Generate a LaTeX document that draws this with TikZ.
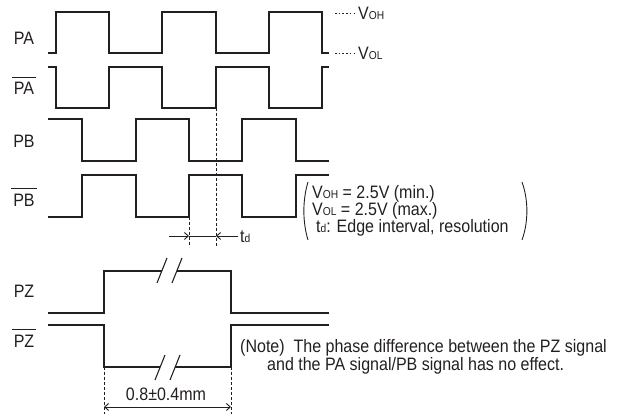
\documentclass[tikz,border=0pt]{standalone}
\usepackage{fontspec}
\setmainfont{Liberation Sans}[FakeStretch=0.89]
\usetikzlibrary{arrows.meta}
\definecolor{ink}{RGB}{35,31,32}
\newcommand{\mysub}[1]{{\fontsize{11.5}{11.5}\selectfont #1}}
\begin{document}
\begin{tikzpicture}[x=1pt,y=-1pt,
  wave/.style={draw=ink,line width=1.7pt,line join=miter},
  guide/.style={draw=ink,line width=0.8pt,dash pattern=on 3pt off 2pt},
  dotline/.style={draw=ink,line width=0.8pt,dash pattern=on 1.5pt off 2.2pt},
  thinline/.style={draw=ink,line width=0.9pt},
  brk/.style={draw=ink,line width=1.1pt},
  lbl/.style={inner sep=0pt,text=ink,font=\fontsize{18}{20}\selectfont},
  txt/.style={inner sep=0pt,anchor=west,text=ink,font=\fontsize{18}{20}\selectfont},
  arr/.style={draw=ink,line width=0.9pt,-{Straight Barb[length=4pt,width=7pt]}}
]
\useasboundingbox (0,0) rectangle (622,419);

% signal labels
\node[lbl] (pa)  at (24,38.5) {PA};
\node[lbl] (pab) at (24,88.5) {PA};
\node[lbl] (pb)  at (24,141.5) {PB};
\node[lbl] (pbb) at (24,200) {PB};
\node[lbl] (pz)  at (24,291) {PZ};
\node[lbl] (pzb) at (24,341) {PZ};
\foreach \n in {pab,pbb,pzb}{
  \draw[thinline] ([xshift=-2pt,yshift=5pt]\n.north west) -- ([xshift=2pt,yshift=5pt]\n.north east);
}

% PA
\draw[wave] (48,53) -- (56,53) -- (56,12) -- (109,12) -- (109,53) -- (162,53) -- (162,12) -- (216,12) -- (216,53) -- (269,53) -- (269,12) -- (322,12) -- (322,53) -- (329,53);
% PA bar
\draw[wave] (48,67) -- (56,67) -- (56,108) -- (109,108) -- (109,67) -- (162,67) -- (162,108) -- (216,108) -- (216,67) -- (269,67) -- (269,108) -- (322,108) -- (322,67) -- (329,67);
% PB
\draw[wave] (48,119) -- (82,119) -- (82,161) -- (136,161) -- (136,119) -- (189,119) -- (189,161) -- (242,161) -- (242,119) -- (296,119) -- (296,161) -- (329,161);
% PB bar
\draw[wave] (48,217) -- (82,217) -- (82,175) -- (136,175) -- (136,217) -- (189,217) -- (189,175) -- (242,175) -- (242,217) -- (296,217) -- (296,175) -- (329,175);

% V levels
\coordinate (vh1) at (335,13); \coordinate (vh2) at (355,13);
\coordinate (vl1) at (335,53); \coordinate (vl2) at (355,53);
\draw[dotline] (vh1) -- (vh2);
\draw[dotline] (vl1) -- (vl2);
\node[txt] (voh) at (358,13) {V\mysub{OH}};
\node[txt] (vol) at (358,53) {V\mysub{OL}};

% td guides
\coordinate (g1t) at (216,108); \coordinate (g1b) at (216,247);
\coordinate (g2t) at (189,217); \coordinate (g2b) at (189,247);
\draw[guide] (g1t) -- (g1b);
\draw[guide] (g2t) -- (g2b);
\coordinate (tdL) at (169,236); \coordinate (tdA) at (189,236);
\coordinate (tdB) at (216,236); \coordinate (tdR) at (238,236);
\draw[arr] (tdL) -- (tdA);
\draw[arr] (tdR) -- (tdB);
\draw[thinline] (tdA) -- (tdB);
\node[txt] (td) at (240,237) {t\mysub{d}};

% parenthesised notes
\draw[thinline] (308,182) .. controls (302.5,200) and (302.5,222) .. (308,240);
\draw[thinline] (522,182) .. controls (528.5,200) and (528.5,222) .. (522,240);
\node[txt] (n1) at (312,194) {V\mysub{OH} = 2.5V (min.)};
\node[txt] (n2) at (312,211) {V\mysub{OL} = 2.5V (max.)};
\node[txt] (n3) at (316,228) {t\mysub{d}: Edge interval, resolution};

% PZ
\draw[wave] (48,313) -- (104,313) -- (104,271) -- (161.8,271);
\draw[wave] (176.8,271) -- (231,271) -- (231,313) -- (329,313);
\draw[brk] (157,283) -- (167,258);
\draw[brk] (172,283) -- (182,258);
% PZ bar
\draw[wave] (48,325) -- (104,325) -- (104,367) -- (160.2,367);
\draw[wave] (175.2,367) -- (231,367) -- (231,325) -- (329,325);
\draw[brk] (155,380) -- (165,355);
\draw[brk] (170,380) -- (180,355);

% width dimension
\coordinate (d1t) at (104,367); \coordinate (d1b) at (104,414);
\coordinate (d2t) at (231,367); \coordinate (d2b) at (231,414);
\draw[guide] (d1t) -- (d1b);
\draw[guide] (d2t) -- (d2b);
\coordinate (wa) at (104,407); \coordinate (wb) at (231,407);
\draw[thinline,{Straight Barb[length=4pt,width=7pt]}-{Straight Barb[length=4pt,width=7pt]}] (wa) -- (wb);
\node[lbl] (wlbl) at (166,394) {0.8±0.4mm};

% note
\node[txt] (note1) at (240,348) {(Note)\ \ The phase difference between the PZ signal};
\node[txt] (note2) at (267,366) {and the PA signal/PB signal has no effect.};
\end{tikzpicture}
\end{document}
